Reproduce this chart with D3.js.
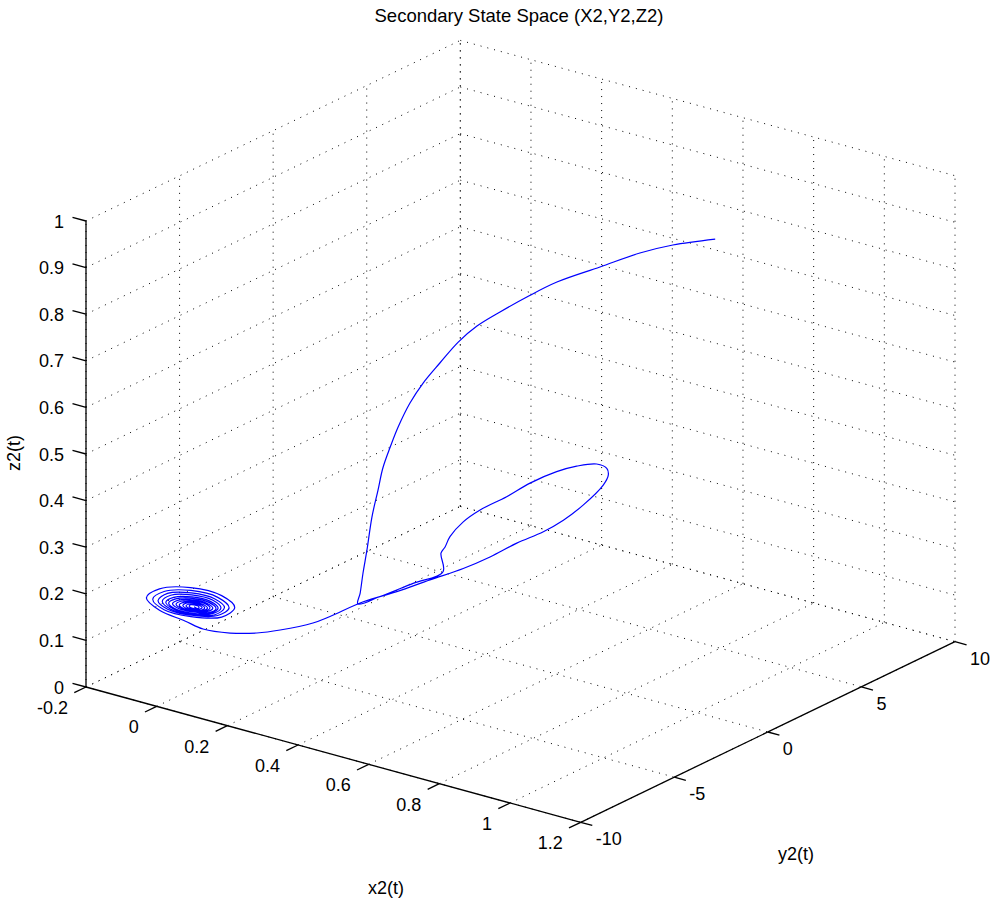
<!DOCTYPE html>
<html>
<head>
<meta charset="utf-8">
<script src="https://cdn.jsdelivr.net/npm/d3@7/dist/d3.min.js"></script>
<style>
  body { margin: 0; background: #fff; }
  svg { display: block; }
  text { font-family: Arial, "Liberation Sans", sans-serif; fill: #000; }
</style>
</head>
<body>
<div id="chart"></div>
<script>
// axis ticks
const xTicks = [-0.2, 0, 0.2, 0.4, 0.6, 0.8, 1, 1.2];
const yTicks = [-10, -5, 0, 5, 10];
const zTicks = [0, 0.1, 0.2, 0.3, 0.4, 0.5, 0.6, 0.7, 0.8, 0.9, 1];

// trajectory: descending arc, loop, return towards the fixed point
const trajX = [0.917, 0.840, 0.779, 0.707, 0.628, 0.572, 0.522, 0.479, 0.444, 0.409, 0.377,
  0.353, 0.329, 0.313, 0.298, 0.288, 0.275, 0.262, 0.254, 0.247, 0.242,
  0.24, 0.24, 0.24, 0.24, 0.24, 0.24, 0.24, 0.24, 0.24, 0.24, 0.24, 0.24, 0.24, 0.24, 0.24,
  0.24, 0.24, 0.24, 0.24, 0.24, 0.24, 0.24, 0.24, 0.24, 0.24, 0.24,
  0.232, 0.199, 0.168, 0.120, 0.056, -0.007];
const trajY = [2.53, 1.72, 1.11, 0.34, -0.47, -1.02, -1.51, -1.93, -2.27, -2.59, -2.88,
  -3.13, -3.31, -3.43, -3.54, -3.61, -3.69, -3.71, -3.77, -3.79, -3.82,
  -2.60, -0.83, 0.77, 0.66, 0.88, 1.14, 1.85, 2.75, 4.17, 5.42, 6.84, 7.91, 8.98, 9.52, 9.60,
  9.33, 8.27, 7.20, 6.13, 4.71, 3.28, 1.85, 0.07, -1.70, -3.49, -5.27,
  -6.03, -7.16, -7.82, -8.34, -8.58, -8.36];
const trajZ = [0.950, 0.937, 0.919, 0.889, 0.856, 0.823, 0.790, 0.759, 0.724, 0.678, 0.634,
  0.591, 0.538, 0.494, 0.448, 0.400, 0.341, 0.268, 0.218, 0.174, 0.150,
  0.142, 0.136, 0.130, 0.172, 0.181, 0.198, 0.216, 0.224, 0.225, 0.230, 0.227, 0.218, 0.202, 0.182, 0.166,
  0.150, 0.128, 0.116, 0.112, 0.115, 0.113, 0.116, 0.126, 0.135, 0.148, 0.151,
  0.150, 0.150, 0.150, 0.150, 0.150, 0.150];

// spiral into the fixed point
const spiralX = [-0.098, -0.135, -0.098, -0.010, 0.078, 0.115, 0.078,
  -0.009, -0.085, -0.117, -0.085, -0.009, 0.067, 0.099, 0.067,
  -0.008, -0.075, -0.102, -0.075, -0.008, 0.059, 0.086, 0.059,
  -0.007, -0.066, -0.090, -0.066, -0.007, 0.052, 0.076, 0.052,
  -0.006, -0.058, -0.080, -0.058, -0.006, 0.046, 0.068, 0.046,
  -0.005, -0.052, -0.072, -0.052, -0.005, 0.042, 0.062, 0.042,
  -0.004, -0.044, -0.061, -0.044, -0.004, 0.036, 0.053, 0.036,
  -0.003, -0.037, -0.051, -0.037, -0.003, 0.031, 0.045, 0.031,
  -0.002, -0.030, -0.042, -0.030, -0.002, 0.026, 0.038, 0.026,
  -0.001, -0.023, -0.032, -0.023, -0.001, 0.021, 0.030, 0.021,
  0.000, -0.016, -0.023, -0.016, 0.000, 0.016, 0.023, 0.016,
  0.000, -0.010, -0.014, -0.010, 0.000, 0.010, 0.014, 0.010, 0.000];
const spiralY = [-8, -8, -8, -8, -8, -8, -8,
  -8, -8, -8, -8, -8, -8, -8, -8,
  -8, -8, -8, -8, -8, -8, -8, -8,
  -8, -8, -8, -8, -8, -8, -8, -8,
  -8, -8, -8, -8, -8, -8, -8, -8,
  -8, -8, -8, -8, -8, -8, -8, -8,
  -8, -8, -8, -8, -8, -8, -8, -8,
  -8, -8, -8, -8, -8, -8, -8, -8,
  -8, -8, -8, -8, -8, -8, -8, -8,
  -8, -8, -8, -8, -8, -8, -8, -8,
  -8, -8, -8, -8, -8, -8, -8, -8,
  -8, -8, -8, -8, -8, -8, -8, -8, -8];
const spiralZ = [0.147, 0.166, 0.193, 0.214, 0.215, 0.197, 0.169,
  0.152, 0.151, 0.167, 0.190, 0.208, 0.209, 0.193, 0.170,
  0.155, 0.154, 0.167, 0.188, 0.203, 0.204, 0.191, 0.170,
  0.157, 0.156, 0.168, 0.186, 0.199, 0.200, 0.188, 0.171,
  0.159, 0.158, 0.168, 0.183, 0.195, 0.196, 0.186, 0.171,
  0.160, 0.159, 0.168, 0.181, 0.192, 0.193, 0.184, 0.171,
  0.163, 0.162, 0.169, 0.180, 0.189, 0.190, 0.183, 0.172,
  0.165, 0.164, 0.170, 0.179, 0.187, 0.188, 0.182, 0.172,
  0.166, 0.165, 0.170, 0.178, 0.185, 0.185, 0.180, 0.172,
  0.168, 0.167, 0.171, 0.178, 0.183, 0.183, 0.179, 0.172,
  0.170, 0.169, 0.172, 0.177, 0.181, 0.181, 0.178, 0.173,
  0.171, 0.171, 0.173, 0.177, 0.179, 0.179, 0.177, 0.173, 0.175];

const width = 995;
const height = 906;

// screen geometry of the axes box (fixed view)
const origin = [86, 687];      // (xmin, ymin, zmin)
const ex = [494.7, 135.3];     // full x range
const ey = [374.3, -180.6];    // full y range
const ez = [0, -466];          // full z range

const xs = d3.scaleLinear().domain([-0.2, 1.2]).range([0, 1]);
const ys = d3.scaleLinear().domain([-10, 10]).range([0, 1]);
const zs = d3.scaleLinear().domain([0, 1]).range([0, 1]);

function proj(x, y, z) {
    const u = xs(x), v = ys(y), w = zs(z);
    return [origin[0] + u * ex[0] + v * ey[0] + w * ez[0],
            origin[1] + u * ex[1] + v * ey[1] + w * ez[1]];
}

const [x0, x1] = xs.domain();
const [y0, y1] = ys.domain();
const [z0, z1] = zs.domain();

const svg = d3.select('#chart').append('svg')
    .attr('width', width)
    .attr('height', height);

// Grid on the three back planes
const grid = [];
xTicks.forEach(x => {
    grid.push([proj(x, y0, z0), proj(x, y1, z0)]);
    grid.push([proj(x, y1, z0), proj(x, y1, z1)]);
});
yTicks.forEach(y => {
    grid.push([proj(x0, y, z0), proj(x1, y, z0)]);
    grid.push([proj(x0, y, z0), proj(x0, y, z1)]);
});
zTicks.forEach(z => {
    grid.push([proj(x0, y0, z), proj(x0, y1, z)]);
    grid.push([proj(x0, y1, z), proj(x1, y1, z)]);
});

svg.append('g')
    .selectAll('line')
    .data(grid)
    .join('line')
    .attr('x1', d => d[0][0]).attr('y1', d => d[0][1])
    .attr('x2', d => d[1][0]).attr('y2', d => d[1][1])
    .attr('stroke', '#000')
    .attr('stroke-width', 1)
    .attr('stroke-dasharray', '1,6');

// Trajectory
const pts = trajX.map((x, i) => proj(x, trajY[i], trajZ[i]))
    .concat(spiralX.map((x, i) => proj(x, spiralY[i], spiralZ[i])));

svg.append('path')
    .attr('d', d3.line().curve(d3.curveCatmullRom.alpha(0.5))(pts))
    .attr('fill', 'none')
    .attr('stroke', '#0000ff')
    .attr('stroke-width', 1.2);

// Axis lines
const axes = [
    [proj(x0, y0, z0), proj(x0, y0, z1)],
    [proj(x0, y0, z0), proj(x1, y0, z0)],
    [proj(x1, y0, z0), proj(x1, y1, z0)]
];
svg.append('g')
    .selectAll('line')
    .data(axes)
    .join('line')
    .attr('x1', d => d[0][0]).attr('y1', d => d[0][1])
    .attr('x2', d => d[1][0]).attr('y2', d => d[1][1])
    .attr('stroke', '#000')
    .attr('stroke-width', 1.3);

// Tick marks and labels
const unit = v => { const l = Math.hypot(v[0], v[1]); return [v[0] / l, v[1] / l]; };
const dx = unit(ex), dy = unit(ey);
const ticks = svg.append('g').attr('stroke', '#000').attr('stroke-width', 1.3);
const labels = svg.append('g').style('font-size', '18px');
const fmt = d => String(d);

zTicks.forEach(z => {
    const p = proj(x0, y0, z);
    ticks.append('line')
        .attr('x1', p[0]).attr('y1', p[1])
        .attr('x2', p[0] - dx[0] * 14).attr('y2', p[1] - dx[1] * 14);
    labels.append('text')
        .attr('x', p[0] - 22).attr('y', p[1] + 6.5)
        .attr('text-anchor', 'end')
        .text(fmt(z));
});

xTicks.forEach(x => {
    const p = proj(x, y0, z0);
    ticks.append('line')
        .attr('x1', p[0]).attr('y1', p[1])
        .attr('x2', p[0] - dy[0] * 13).attr('y2', p[1] - dy[1] * 13);
    labels.append('text')
        .attr('x', p[0] - 18).attr('y', p[1] + 27)
        .attr('text-anchor', 'end')
        .text(fmt(x));
});

yTicks.forEach(y => {
    const p = proj(x1, y, z0);
    ticks.append('line')
        .attr('x1', p[0]).attr('y1', p[1])
        .attr('x2', p[0] + dx[0] * 12).attr('y2', p[1] + dx[1] * 12);
    labels.append('text')
        .attr('x', p[0] + 15).attr('y', p[1] + 23)
        .attr('text-anchor', 'start')
        .text(fmt(y));
});

// Axis titles
labels.append('text')
    .attr('x', 386).attr('y', 894)
    .attr('text-anchor', 'middle')
    .text('x2(t)');

labels.append('text')
    .attr('x', 796).attr('y', 860)
    .attr('text-anchor', 'middle')
    .text('y2(t)');

labels.append('text')
    .attr('transform', 'translate(20,453) rotate(-90)')
    .attr('text-anchor', 'middle')
    .text('z2(t)');

// Title
svg.append('text')
    .attr('x', 519).attr('y', 22)
    .attr('text-anchor', 'middle')
    .style('font-size', '18.5px')
    .text('Secondary State Space (X2,Y2,Z2)');
</script>
</body>
</html>
